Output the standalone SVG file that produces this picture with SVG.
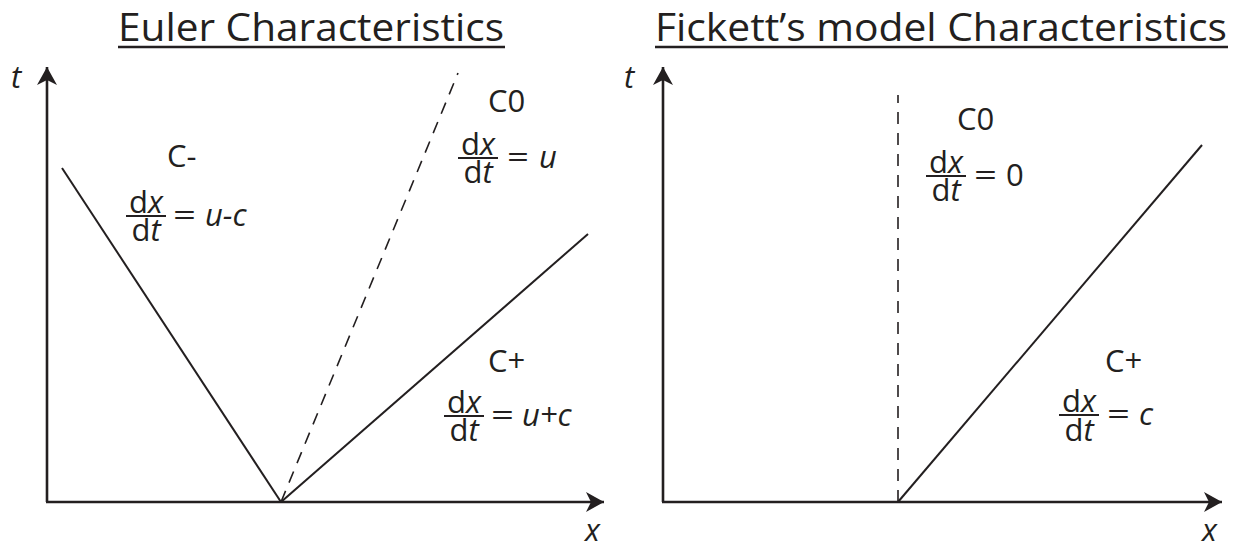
<svg xmlns="http://www.w3.org/2000/svg" width="1241" height="550" viewBox="0 0 1241 550">
<defs>
<style>
text{font-family:"Open Sans","Noto Sans","Liberation Sans",sans-serif;fill:#231f20}
.title{font-size:39px}
.lab{font-size:31px}
.it{font-style:italic}
.ax{stroke:#231f20;stroke-width:2.6;fill:none}
.ln{stroke:#231f20;stroke-width:2;fill:none}
.dash{stroke:#231f20;stroke-width:1.6;fill:none;stroke-dasharray:12 9}
.bar{stroke:#231f20;stroke-width:1.8}
.ul{stroke:#231f20;stroke-width:2.6}
</style>
<marker id="ah" viewBox="-18 -11 19 22" refX="0" refY="0" markerWidth="19" markerHeight="22" markerUnits="userSpaceOnUse" orient="auto">
<path d="M0,0 L-18,-10 L-13,0 L-18,10 Z" fill="#231f20"/>
</marker>
</defs>

<g id="titles">
<text class="title" x="118" y="41" textLength="386" lengthAdjust="spacingAndGlyphs">Euler Characteristics</text>
<line class="ul" x1="118" y1="47" x2="505" y2="47"/>
<text class="title" x="655" y="41" textLength="572" lengthAdjust="spacingAndGlyphs">Fickett’s model Characteristics</text>
<line class="ul" x1="655" y1="47" x2="1228" y2="47"/>
</g>

<g id="connectors">
<line class="ax" x1="47" y1="502" x2="47" y2="67" marker-end="url(#ah)"/>
<line class="ax" x1="46" y1="502" x2="604" y2="502" marker-end="url(#ah)"/>
<line class="ln" x1="281" y1="502" x2="62" y2="168"/>
<line class="ln" x1="281" y1="502" x2="588" y2="234"/>
<line class="dash" x1="281" y1="502" x2="458" y2="73"/>
<line class="ax" x1="663" y1="502" x2="663" y2="67" marker-end="url(#ah)"/>
<line class="ax" x1="662" y1="502" x2="1222" y2="502" marker-end="url(#ah)"/>
<line class="dash" x1="898" y1="502" x2="898" y2="95"/>
<line class="ln" x1="898" y1="502" x2="1202" y2="145"/>
</g>

<g id="axis-labels">
<text class="lab it" x="11" y="88">t</text>
<text class="lab it" x="585" y="541">x</text>
<text class="lab it" x="624" y="88">t</text>
<text class="lab it" x="1202" y="541">x</text>
</g>

<g id="c-minus">
<text class="lab" x="167" y="167">C-</text>
<text class="lab" x="146" y="213" text-anchor="middle">d<tspan class="it">x</tspan></text>
<line class="bar" x1="126" y1="216" x2="166" y2="216"/>
<text class="lab" x="146" y="241" text-anchor="middle">d<tspan class="it">t</tspan></text>
<text class="lab" x="173" y="226" textLength="23" lengthAdjust="spacingAndGlyphs">=</text>
<text class="lab it" x="205" y="226">u-c</text>
</g>

<g id="c-zero-euler">
<text class="lab" x="488" y="112">C0</text>
<text class="lab" x="478" y="155" text-anchor="middle">d<tspan class="it">x</tspan></text>
<line class="bar" x1="458" y1="158" x2="498" y2="158"/>
<text class="lab" x="478" y="183" text-anchor="middle">d<tspan class="it">t</tspan></text>
<text class="lab" x="507" y="168" textLength="22" lengthAdjust="spacingAndGlyphs">=</text>
<text class="lab it" x="539" y="168">u</text>
</g>

<g id="c-plus-euler">
<text class="lab" x="488" y="372">C+</text>
<text class="lab" x="464" y="413" text-anchor="middle">d<tspan class="it">x</tspan></text>
<line class="bar" x1="444" y1="416" x2="484" y2="416"/>
<text class="lab" x="464" y="441" text-anchor="middle">d<tspan class="it">t</tspan></text>
<text class="lab" x="491" y="426" textLength="23" lengthAdjust="spacingAndGlyphs">=</text>
<text class="lab it" x="522" y="426">u+c</text>
</g>

<g id="c-zero-fickett">
<text class="lab" x="957" y="130">C0</text>
<text class="lab" x="946" y="173" text-anchor="middle">d<tspan class="it">x</tspan></text>
<line class="bar" x1="926" y1="176" x2="966" y2="176"/>
<text class="lab" x="946" y="201" text-anchor="middle">d<tspan class="it">t</tspan></text>
<text class="lab" x="974" y="186" textLength="23" lengthAdjust="spacingAndGlyphs">=</text>
<text class="lab" x="1006" y="186">0</text>
</g>

<g id="c-plus-fickett">
<text class="lab" x="1105" y="372">C+</text>
<text class="lab" x="1079" y="412" text-anchor="middle">d<tspan class="it">x</tspan></text>
<line class="bar" x1="1059" y1="415" x2="1099" y2="415"/>
<text class="lab" x="1079" y="441" text-anchor="middle">d<tspan class="it">t</tspan></text>
<text class="lab" x="1107" y="425" textLength="23" lengthAdjust="spacingAndGlyphs">=</text>
<text class="lab it" x="1139" y="425">c</text>
</g>
</svg>
